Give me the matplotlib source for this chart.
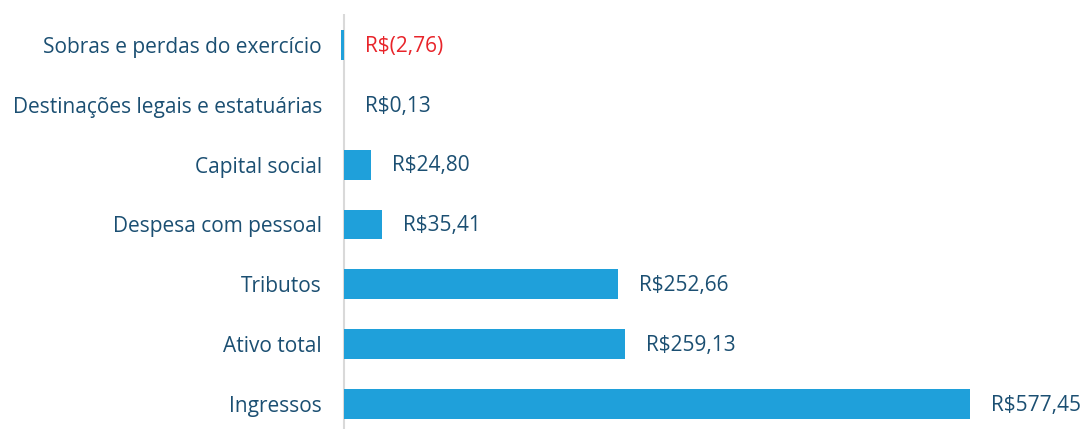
import matplotlib.pyplot as plt

# Valores (R$ milhões), de cima para baixo
categorias = ['Sobras e perdas do exercício', 'Destinações legais e estatuárias',
              'Capital social', 'Despesa com pessoal', 'Tributos', 'Ativo total', 'Ingressos']
valores = [-2.76, 0.13, 24.80, 35.41, 252.66, 259.13, 577.45]
rotulos = ['R$(2,76)', 'R$0,13', 'R$24,80', 'R$35,41', 'R$252,66', 'R$259,13', 'R$577,45']

cor_barra = '#1FA0DA'
cor_texto = '#1B4F72'
cor_negativo = '#E8242A'

plt.rcParams['font.family'] = ['Open Sans', 'DejaVu Sans']

fig = plt.figure(figsize=(10.83, 4.29), dpi=100)
ax = fig.add_axes([340.75 / 1083, 0, 1 - 340.75 / 1083, 415 / 429])

pos = list(range(len(categorias)))
ax.barh(pos, valores, height=0.5, color=cor_barra)
ax.axvline(0, color='#D9D9D9', linewidth=1.5, zorder=0)

for p, v, r in zip(pos, valores, rotulos):
    ax.annotate(r, xy=(max(v, 0), p + 0.02), xytext=(15, 0), textcoords='offset points',
                va='center', ha='left', fontsize=15,
                color=cor_negativo if v < 0 else cor_texto)

ax.set_yticks(pos)
ax.set_yticklabels(categorias, fontsize=15, color=cor_texto)
ax.tick_params(axis='y', length=0, pad=13.5)
ax.set_xticks([])
ax.set_xlim(-3, 681.7)
ax.set_ylim(6.42, -0.52)
for s in ax.spines.values():
    s.set_visible(False)

plt.savefig('out.png', dpi=100)
